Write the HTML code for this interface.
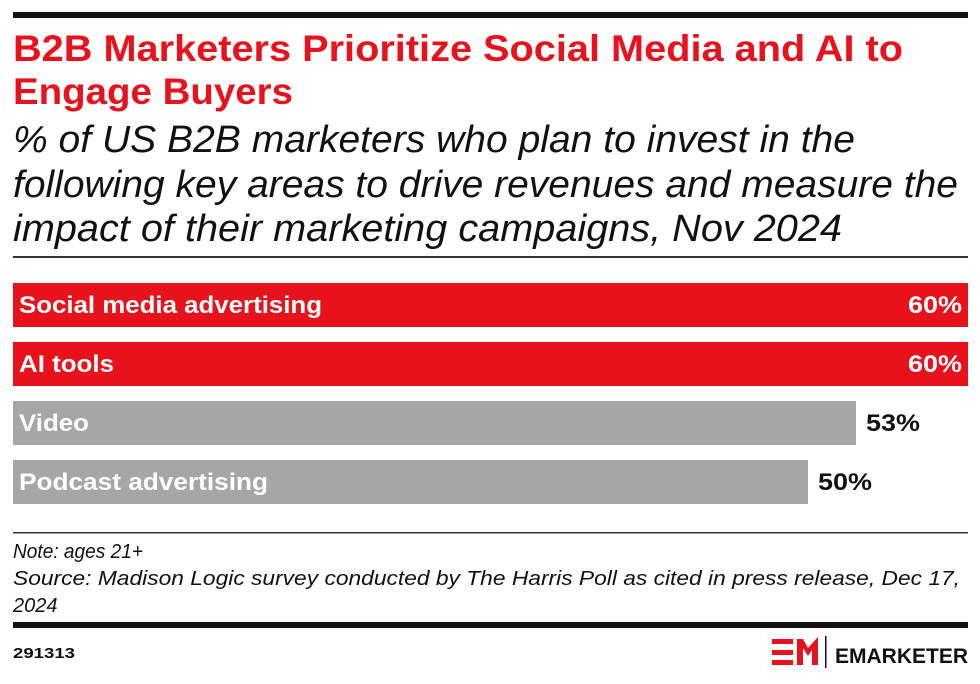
<!DOCTYPE html>
<html><head><meta charset="utf-8"><style>body{margin:0;background:#fff}</style></head><body>
<svg width="980" height="679" viewBox="0 0 980 679" xmlns="http://www.w3.org/2000/svg" font-family="Liberation Sans, sans-serif">
<rect x="13" y="12" width="955" height="6" fill="#111"/>
<g fill="#e8121c" font-weight="bold" font-size="37">
<text x="13" y="61" textLength="890" lengthAdjust="spacingAndGlyphs">B2B Marketers Prioritize Social Media and AI to</text>
<text x="13" y="104" textLength="280" lengthAdjust="spacingAndGlyphs">Engage Buyers</text>
</g>
<g fill="#111" font-style="italic" font-size="38">
<text x="13" y="152" textLength="842" lengthAdjust="spacingAndGlyphs">% of US B2B marketers who plan to invest in the</text>
<text x="13" y="197" textLength="945" lengthAdjust="spacingAndGlyphs">following key areas to drive revenues and measure the</text>
<text x="13" y="241" textLength="829" lengthAdjust="spacingAndGlyphs">impact of their marketing campaigns, Nov 2024</text>
</g>
<rect x="13" y="256" width="955" height="2" fill="#333"/>
<rect x="13" y="283" width="955" height="44" fill="#e8121c"/>
<rect x="13" y="342" width="955" height="44" fill="#e8121c"/>
<rect x="13" y="401" width="843" height="44" fill="#a6a6a6"/>
<rect x="13" y="460" width="795" height="44" fill="#a6a6a6"/>
<g font-weight="bold" font-size="24">
<text x="19" y="313" fill="#fff" textLength="303" lengthAdjust="spacingAndGlyphs">Social media advertising</text>
<text x="19" y="372" fill="#fff" textLength="95" lengthAdjust="spacingAndGlyphs">AI tools</text>
<text x="19" y="431" fill="#fff" textLength="70" lengthAdjust="spacingAndGlyphs">Video</text>
<text x="19" y="490" fill="#fff" textLength="249" lengthAdjust="spacingAndGlyphs">Podcast advertising</text>
<text x="908" y="313" fill="#fff" textLength="54" lengthAdjust="spacingAndGlyphs">60%</text>
<text x="908" y="372" fill="#fff" textLength="54" lengthAdjust="spacingAndGlyphs">60%</text>
<text x="866" y="431" fill="#111" textLength="54" lengthAdjust="spacingAndGlyphs">53%</text>
<text x="818" y="490" fill="#111" textLength="54" lengthAdjust="spacingAndGlyphs">50%</text>
</g>
<rect x="13" y="532" width="955" height="1.5" fill="#333"/>
<g font-style="italic" font-size="20" fill="#111">
<text x="13" y="558" textLength="130" lengthAdjust="spacingAndGlyphs">Note: ages 21+</text>
<text x="13" y="585" textLength="947" lengthAdjust="spacingAndGlyphs">Source: Madison Logic survey conducted by The Harris Poll as cited in press release, Dec 17,</text>
<text x="13" y="612">2024</text>
</g>
<rect x="13" y="622" width="955" height="6" fill="#111"/>
<text x="13" y="658" font-size="15" font-weight="bold" fill="#111" textLength="62" lengthAdjust="spacingAndGlyphs">291313</text>
<g fill="#e8121c">
<rect x="772" y="639" width="21" height="5"/>
<rect x="772" y="650" width="21" height="5"/>
<rect x="772" y="660" width="21" height="5"/>
<polygon points="797,639 803,639 808,648 818,637 818,665 812,665 812,650 808,656 803,648 803,665 797,665"/>
</g>
<rect x="825" y="636" width="1.5" height="32" fill="#111"/>
<text x="835" y="663" font-size="21" font-weight="bold" fill="#111" textLength="133" lengthAdjust="spacingAndGlyphs">EMARKETER</text>
</svg>
</body></html>
